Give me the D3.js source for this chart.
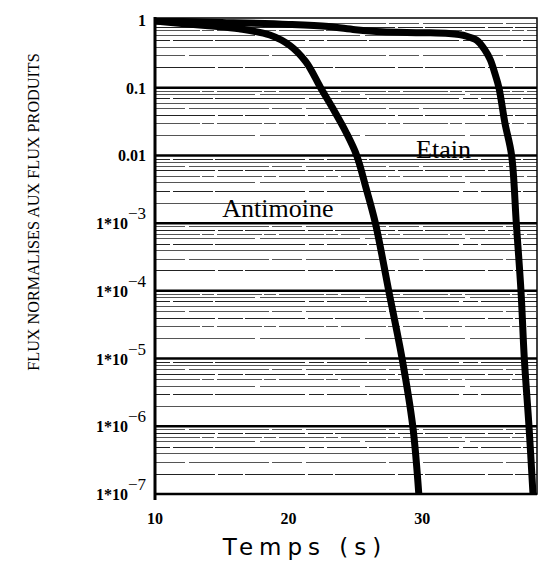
<!DOCTYPE html>
<html>
<head>
<meta charset="utf-8">
<script src="https://cdn.jsdelivr.net/npm/d3@7"></script>
<style>
  body { margin: 0; background: #fff; }
  svg { display: block; }
</style>
</head>
<body>
<div id="wrapper"></div>
<script>
// Antimoine curve (time in s, normalised flux)
const antimoineTime = [10, 12, 14, 16.3, 18.6, 20.1, 21.3, 22.4, 23.3, 24.3, 25.1, 25.8, 26.5, 27.5, 28.5, 29.3, 29.75];
const antimoineFlux = [0.97, 0.89, 0.82, 0.74, 0.6, 0.42, 0.24, 0.1, 0.05, 0.022, 0.01, 0.0033, 1e-3, 1e-4, 1e-5, 1e-6, 1e-7];

// Etain curve
const etainTime = [10, 15, 20, 23, 25, 27, 30, 32, 33.3, 34.1, 34.7, 35.1, 35.5, 35.75, 36.2, 36.7, 37.05, 37.4, 37.65, 38.0, 38.3];
const etainFlux = [0.97, 0.92, 0.86, 0.8, 0.72, 0.67, 0.65, 0.63, 0.58, 0.5, 0.36, 0.26, 0.15, 0.1, 0.03, 0.01, 1e-3, 1e-4, 1e-5, 1e-6, 1e-7];

const xTicks = [10, 20, 30];
const yMajor = [1, 0.1, 0.01, 1e-3, 1e-4, 1e-5, 1e-6, 1e-7];
const yLabels = ["1", "0.1", "0.01", "1*10|\u22123", "1*10|\u22124", "1*10|\u22125", "1*10|\u22126", "1*10|\u22127"];

const drawChart = () => {
  const dimensions = {
    width: 546,
    height: 563,
    margin: { top: 18, right: 9, bottom: 69, left: 155 },
  };
  dimensions.boundedWidth = dimensions.width - dimensions.margin.left - dimensions.margin.right;
  dimensions.boundedHeight = dimensions.height - dimensions.margin.top - dimensions.margin.bottom;

  const svg = d3.select("#wrapper").append("svg")
    .attr("width", dimensions.width)
    .attr("height", dimensions.height);

  const bounds = svg.append("g")
    .attr("transform", `translate(${dimensions.margin.left},${dimensions.margin.top})`);

  const xScale = d3.scaleLinear()
    .domain([10, 38.6])
    .range([0, dimensions.boundedWidth]);

  const yScale = d3.scaleLog()
    .domain([1e-7, 1.07])
    .range([dimensions.boundedHeight, 0]);

  bounds.append("clipPath").attr("id", "clip")
    .append("rect")
    .attr("width", dimensions.boundedWidth)
    .attr("height", dimensions.boundedHeight);

  // minor grid lines, 2..9 in each decade
  const minor = [];
  for (let e = -7; e < 0; e++) {
    for (let m = 2; m <= 9; m++) minor.push(m * Math.pow(10, e));
  }
  const dashes = ["60,3,25,2", "30,4,80,3", "none", "15,3,40,2,90,4", "100,5", "45,2,12,3"];
  bounds.append("g").selectAll("line").data(minor).join("line")
    .attr("x1", 0)
    .attr("x2", dimensions.boundedWidth)
    .attr("y1", (d) => Math.round(yScale(d)) + 0.5)
    .attr("y2", (d) => Math.round(yScale(d)) + 0.5)
    .attr("stroke", (d, i) => (i % 3 === 0 ? "#222" : "#555"))
    .attr("stroke-width", 1)
    .attr("stroke-dasharray", (d, i) => dashes[i % dashes.length]);

  // major grid lines
  bounds.append("g").selectAll("line").data(yMajor.slice(1, -1)).join("line")
    .attr("x1", 0)
    .attr("x2", dimensions.boundedWidth)
    .attr("y1", (d) => yScale(d))
    .attr("y2", (d) => yScale(d))
    .attr("stroke", "#000")
    .attr("stroke-width", 2.5);

  // frame
  bounds.append("rect")
    .attr("width", dimensions.boundedWidth)
    .attr("height", dimensions.boundedHeight)
    .attr("fill", "none")
    .attr("stroke", "#000")
    .attr("stroke-width", 1.5);
  bounds.append("line")
    .attr("x1", 0).attr("x2", 0)
    .attr("y1", -1).attr("y2", dimensions.boundedHeight + 6)
    .attr("stroke", "#000").attr("stroke-width", 3);
  bounds.append("line")
    .attr("x1", 0).attr("x2", dimensions.boundedWidth)
    .attr("y1", dimensions.boundedHeight).attr("y2", dimensions.boundedHeight)
    .attr("stroke", "#000").attr("stroke-width", 2.5);

  // curves
  const line = d3.line()
    .x((d) => xScale(d[0]))
    .y((d) => yScale(d[1]))
    .curve(d3.curveCatmullRom.alpha(0.5));

  const series = [
    d3.zip(antimoineTime, antimoineFlux),
    d3.zip(etainTime, etainFlux),
  ];
  bounds.append("g").attr("clip-path", "url(#clip)")
    .selectAll("path").data(series).join("path")
    .attr("d", line)
    .attr("fill", "none")
    .attr("stroke", "#000")
    .attr("stroke-width", 7)
    .attr("stroke-linejoin", "round");

  // curve labels
  bounds.append("text")
    .attr("x", xScale(19.2))
    .attr("y", yScale(1.25e-3))
    .attr("text-anchor", "middle")
    .style("font-family", "'Liberation Serif', serif")
    .style("font-size", "26px")
    .text("Antimoine");

  bounds.append("text")
    .attr("x", xScale(31.6))
    .attr("y", yScale(9.3e-3))
    .attr("text-anchor", "middle")
    .style("font-family", "'Liberation Serif', serif")
    .style("font-size", "26px")
    .text("Etain");

  // y tick labels
  const yLab = bounds.append("g").selectAll("text").data(yMajor).join("text")
    .attr("x", -9)
    .attr("y", (d) => yScale(d) + 6)
    .attr("text-anchor", "end")
    .style("font-family", "'Liberation Serif', serif")
    .style("font-size", "16px")
    .style("font-weight", "bold");
  yLab.each(function (d, i) {
    const parts = yLabels[i].split("|");
    const t = d3.select(this);
    t.append("tspan").text(parts[0]);
    if (parts[1]) {
      t.append("tspan")
        .attr("dy", -10)
        .style("font-weight", "normal")
        .style("font-size", "17px")
        .text(parts[1]);
    }
  });

  // x tick labels
  bounds.append("g").selectAll("text").data(xTicks).join("text")
    .attr("x", (d) => xScale(d))
    .attr("y", dimensions.boundedHeight + 30)
    .attr("text-anchor", "middle")
    .style("font-family", "'Liberation Serif', serif")
    .style("font-size", "16px")
    .style("font-weight", "bold")
    .text((d) => d);

  // axis titles
  svg.append("text")
    .attr("x", 305)
    .attr("y", 555)
    .attr("text-anchor", "middle")
    .style("font-family", "'DejaVu Sans', sans-serif")
    .style("font-size", "23px")
    .style("letter-spacing", "6px")
    .text("Temps (s)");

  svg.append("text")
    .attr("transform", "translate(39,212) rotate(-90)")
    .attr("text-anchor", "middle")
    .style("font-family", "'Liberation Serif', serif")
    .style("font-size", "16.2px")
    .text("FLUX NORMALISES AUX FLUX PRODUITS");
};

drawChart();
</script>
</body>
</html>
